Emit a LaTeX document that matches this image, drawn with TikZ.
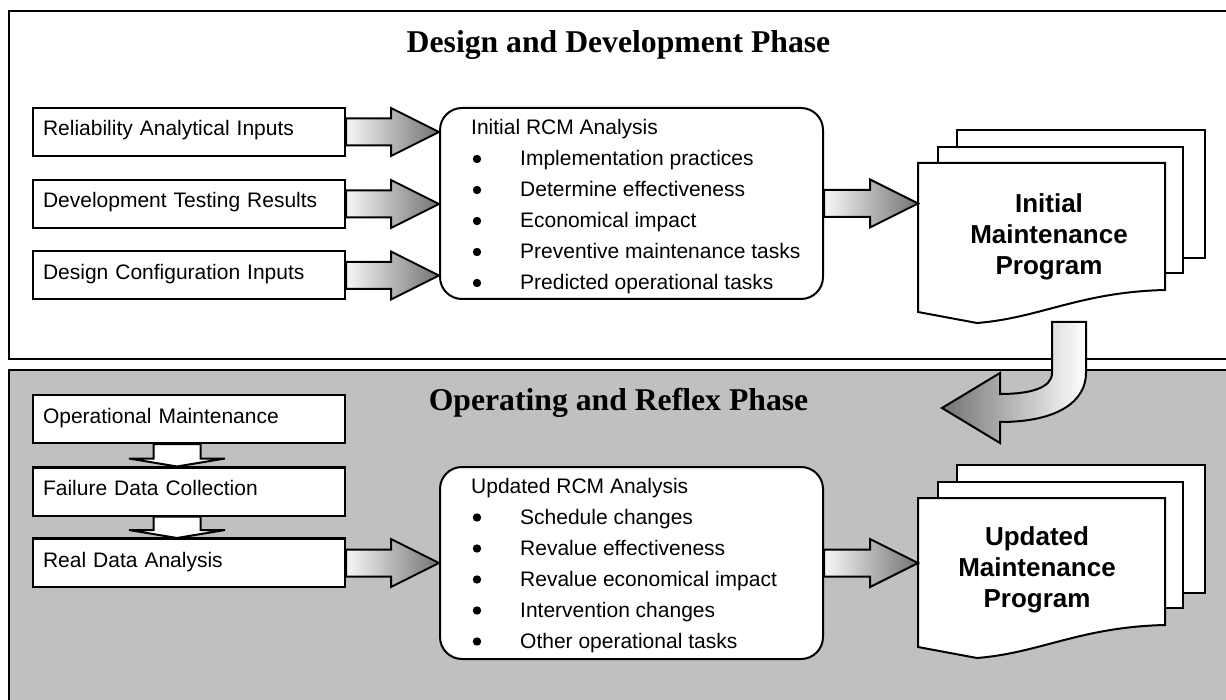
\documentclass[tikz,border=0pt]{standalone}
\usepackage{fontspec}
\setmainfont{Liberation Sans}
\newfontfamily\titlefont{Liberation Serif}
\usetikzlibrary{calc}
\definecolor{panelgray}{HTML}{C0C0C0}
\newcommand\wideArrow[2]{\path[blockarrow] let \p1=(#1), \p2=(#2) in
  (\x1,\y1+13.5pt) -- (\x2-48pt,\y1+13.5pt) -- (\x2-48pt,\y1+24pt) -- (\x2,\y1)
  -- (\x2-48pt,\y1-24pt) -- (\x2-48pt,\y1-13.5pt) -- (\x1,\y1-13.5pt) -- cycle;}
\newcommand\downArrow[2]{\path[downarrow] let \p1=(#1), \p2=(#2) in
  (\x1-23.5pt,\y1) -- (\x1-23.5pt,\y2+8pt) -- (\x1-48pt,\y2+8pt) -- (\x1,\y2)
  -- (\x1+48pt,\y2+8pt) -- (\x1+23.5pt,\y2+8pt) -- (\x1+23.5pt,\y1) -- cycle;}
\begin{document}
\begin{tikzpicture}[x=1pt,y=-1pt,
  panel/.style={draw=black,line width=2.5pt},
  inbox/.style={draw=black,fill=white,line width=2pt,anchor=north west,
    minimum width=312pt,minimum height=48pt,inner xsep=10pt,inner ysep=0pt,
    text width=292pt,align=left,text height=15pt,text depth=7pt,
    font=\fontsize{21}{25}\selectfont},
  rcmbox/.style={draw=black,fill=white,line width=2pt,rounded corners=22pt,
    anchor=north west,minimum width=383pt,inner sep=0pt},
  docpage/.style={draw=black,fill=white,line width=2pt,line join=miter},
  blockarrow/.style={draw=black,line width=2pt,left color=black!3,right color=black!55,line join=miter},
  curvearrow/.style={draw=black,line width=2pt,left color=black!55,right color=white,line join=miter},
  downarrow/.style={draw=black,fill=white,line width=2pt,line join=miter},
  phasetitle/.style={font=\titlefont\bfseries\fontsize{31.7}{36}\selectfont,anchor=base,inner sep=0pt},
  bodytext/.style={font=\fontsize{21}{25}\selectfont,anchor=base west,inner sep=0pt},
  doctext/.style={font=\bfseries\fontsize{26}{31}\selectfont,align=center,inner sep=0pt},
  anchorbox/.style={draw=none,inner sep=0pt,anchor=north west}
]
\useasboundingbox (0,0) rectangle (1226,700);
\clip (0,0) rectangle (1226,700);

% panels
\draw[panel,fill=white] (9,11) rectangle (1240,359);
\draw[panel,fill=panelgray] (9,370) rectangle (1240,712);

% titles
\node[phasetitle] (t1) at (618.5,53) {Design and Development Phase};
\node[phasetitle] (t2) at (618.5,410) {Operating and Reflex Phase};

% ---------- design phase ----------
\node[inbox] (r1) at (32,107) {Reliability Analytical Inputs};
\node[inbox] (r2) at (32,179) {Development Testing Results};
\node[inbox] (r3) at (32,250.5) {Design Configuration Inputs};

\node[rcmbox,minimum height=191pt] (rcm1) at (439,107) {};
\node[bodytext] (rcm1t) at ($(rcm1.north west)+(32,27.7)$) {Initial RCM Analysis};
\foreach \t [count=\i] in {Implementation practices, Determine effectiveness, Economical impact, Preventive maintenance tasks, Predicted operational tasks} {
  \fill ($(rcm1.north west)+(38,{21+31*\i})$) circle (4.2pt);
  \node[bodytext] (ia\i) at ($(rcm1.north west)+(81,{28+31*\i})$) {\t};
}

\wideArrow{r1.east}{rcm1.west |- r1.east}
\wideArrow{r2.east}{rcm1.west |- r2.east}
\wideArrow{r3.east}{rcm1.west |- r3.east}

% initial maintenance program (document stack)
\draw[docpage] (957,130) rectangle (1205,258);
\draw[docpage] (938,147) rectangle (1183,273);
\draw[docpage] (918,163) -- (1165,163) -- (1165,290)
  .. controls (1080,292) and (1040,318) .. (977,323) -- (918,312) -- cycle;
\node[anchorbox,minimum width=247pt,minimum height=149pt] (doc1) at (918,163) {};
\node[doctext] (doc1t) at (1049,236.5) {Initial\\Maintenance\\Program};

\wideArrow{rcm1.east}{doc1.west |- rcm1.east}

% ---------- operating phase ----------
\node[inbox] (om) at (32,394) {Operational Maintenance};
\node[inbox] (fd) at (32,466.5) {Failure Data Collection};
\node[inbox] (rd) at (32,538) {Real Data Analysis};
\downArrow{$(om.south)+(-12,0)$}{$(fd.north)+(-12,0)$}
\downArrow{$(fd.south)+(-12,0)$}{$(rd.north)+(-12,0)$}
% the input boxes lie over the tips of the small arrows
\draw[line width=2pt] (fd.north west) -- (fd.north east);
\draw[line width=2pt] (rd.north west) -- (rd.north east);

\node[rcmbox,minimum height=192pt] (rcm2) at (439,466) {};
\node[bodytext] (rcm2t) at ($(rcm2.north west)+(32,27.5)$) {Updated RCM Analysis};
\foreach \t [count=\i] in {Schedule changes, Revalue effectiveness, Revalue economical impact, Intervention changes, Other operational tasks} {
  \fill ($(rcm2.north west)+(38,{20.5+31*\i})$) circle (4.2pt);
  \node[bodytext] (ib\i) at ($(rcm2.north west)+(81,{27.5+31*\i})$) {\t};
}

\wideArrow{rd.east}{rcm2.west |- rd.east}

% updated maintenance program (document stack)
\draw[docpage] (957,465) rectangle (1205,593);
\draw[docpage] (938,482) rectangle (1183,608);
\draw[docpage] (918,498) -- (1165,498) -- (1165,625)
  .. controls (1080,627) and (1040,653) .. (977,658) -- (918,647) -- cycle;
\node[anchorbox,minimum width=247pt,minimum height=149pt] (doc2) at (918,498) {};
\node[doctext] (doc2t) at (1037,570) {Updated\\Maintenance\\Program};

\wideArrow{rcm2.east}{doc2.west |- rcm2.east}

% curved arrow between phases
\path[curvearrow] (1052,322) -- (1052,373) .. controls (1052,388) and (1030,394) .. (1000,394)
  -- (1000,373) -- (942,408) -- (1000,443) -- (1000,422)
  .. controls (1060,422) and (1086,400) .. (1086,373) -- (1086,322) -- cycle;
\end{tikzpicture}
\end{document}
